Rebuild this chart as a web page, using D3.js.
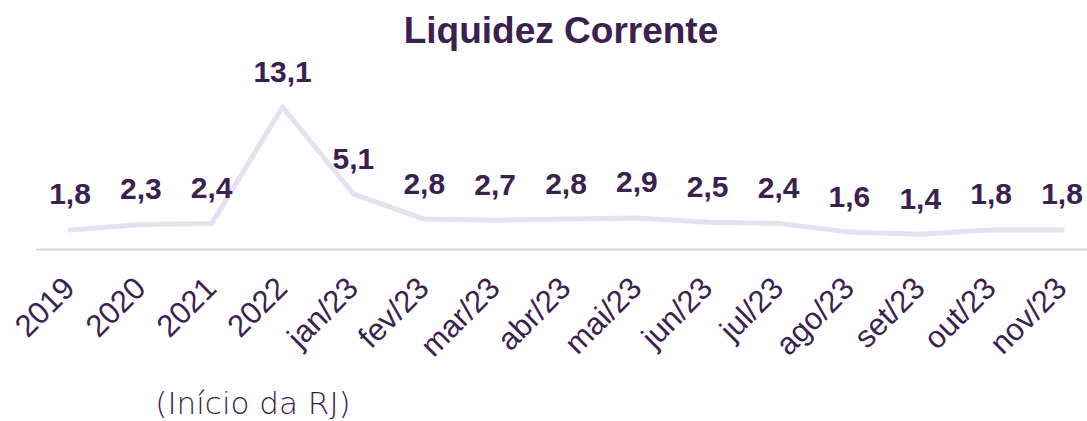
<!DOCTYPE html>
<html><head><meta charset="utf-8">
<script src="https://cdn.jsdelivr.net/npm/d3@7"></script>
<style>body{margin:0;background:#fff;} svg{display:block;}</style>
</head><body>
<svg id="c" width="1087" height="421"></svg>
<script>
const categories = ["2019","2020","2021","2022","jan/23","fev/23","mar/23","abr/23","mai/23","jun/23","jul/23","ago/23","set/23","out/23","nov/23"];
const values = [1.8,2.3,2.4,13.1,5.1,2.8,2.7,2.8,2.9,2.5,2.4,1.6,1.4,1.8,1.8];
const labels = ["1,8","2,3","2,4","13,1","5,1","2,8","2,7","2,8","2,9","2,5","2,4","1,6","1,4","1,8","1,8"];
const title = "Liquidez Corrente";
const note = "(Início da RJ)";

const textColor = "#3b2150";
const svg = d3.select("#c");
const x = d3.scalePoint().domain(categories).range([70, 1062]);
const y = d3.scaleLinear().domain([0, 13.1]).range([249.5, 107]);

svg.append("text").attr("x", 561).attr("y", 43).attr("text-anchor", "middle")
  .attr("font-family", "Liberation Sans, Arial, sans-serif").attr("font-weight", "bold")
  .attr("font-size", 37).attr("fill", textColor).text(title);

svg.append("line").attr("x1", 36).attr("x2", 1087).attr("y1", 249.5).attr("y2", 249.5)
  .attr("stroke", "#d9d9d9").attr("stroke-width", 2);

const line = d3.line().x((d,i) => x(categories[i])).y(d => y(d));
svg.append("path").datum(values).attr("d", line).attr("fill", "none")
  .attr("stroke", "#e6e0f1").attr("stroke-width", 5).attr("stroke-linecap", "round").attr("stroke-linejoin", "round");

svg.selectAll(".lbl").data(values).enter().append("text")
  .attr("x", (d,i) => x(categories[i])).attr("y", d => y(d) - 25.5)
  .attr("text-anchor", "middle").attr("font-family", "Liberation Sans, Arial, sans-serif")
  .attr("font-weight", "bold").attr("font-size", 30).attr("fill", textColor)
  .text((d,i) => labels[i]);

const axis = d3.axisBottom(x).tickSize(0).tickPadding(0);
const g = svg.append("g").attr("transform", "translate(0,249.5)").call(axis);
g.select(".domain").remove();
g.selectAll("text").attr("font-family", "Liberation Sans, Arial, sans-serif").attr("font-size", 31)
  .attr("fill", textColor).attr("text-anchor", "end").attr("dy", 0).attr("y", 0)
  .attr("transform", "translate(6,40.5) rotate(-45)");

svg.append("text").attr("x", 253).attr("y", 414).attr("text-anchor", "middle")
  .attr("font-family", "DejaVu Sans, sans-serif").attr("font-weight", 200)
  .attr("font-size", 31).attr("fill", textColor).text(note);
</script>
</body></html>
